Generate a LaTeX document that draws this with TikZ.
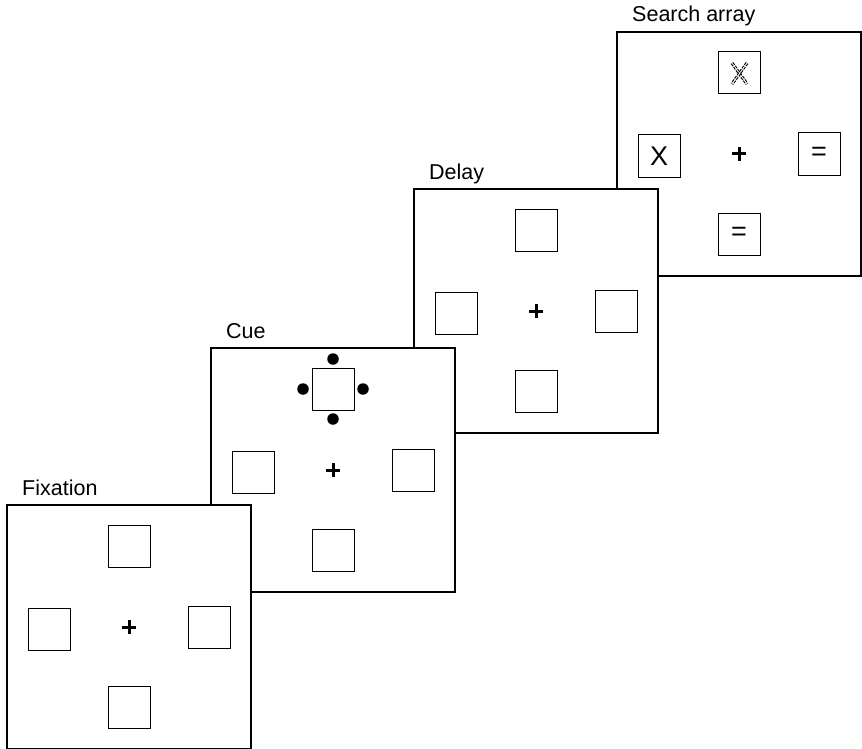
\documentclass[tikz,border=0pt]{standalone}
\usepackage{fontspec}
\setmainfont{Liberation Sans}
\usetikzlibrary{positioning, calc}

\begin{document}
\begin{tikzpicture}[
    x=1pt, y=-1pt, % pixel-like units, y grows downwards
    frame/.style={draw, fill=white, line width=2pt}, % Style for the screens
    title/.style={anchor=base west, inner sep=0pt, font=\fontsize{21.5}{25}\selectfont}, % Style for screen names
    stim/.style={draw, line width=1pt, minimum size=42pt, inner sep=0pt,
        font=\fontsize{27}{30}\selectfont}, % Style for placeholder boxes
    fixcross/.style={line width=3pt}, % Style for the fixation cross
    cuedot/.style={fill, circle, inner sep=0pt, minimum size=11.5pt}, % Style for cue dots
    shattered/.style={dash pattern=on 3pt off 1.2pt, double, line width=1.1pt,
        double distance=0.9pt} % Style for the broken X
]
    \useasboundingbox (0,0) rectangle (862,749);

    % Screen centres
    \coordinate (S) at (739,154);
    \coordinate (D) at (536,311);
    \coordinate (C) at (333,470);
    \coordinate (F) at (129,627);

    % Screens, back to front
    \foreach \p/\name in {S/Search array, D/Delay, C/Cue, F/Fixation} {
        \draw[frame] ($(\p)+(-122,-122)$) rectangle ($(\p)+(122,122)$);
        \node[title] (\p-title) at ($(\p)+(-107,-132)$) {\name};
    }

    % Fixation crosses
    \foreach \p in {S, D, C, F} {
        \draw[fixcross] ($(\p)+(-7,0)$) -- ($(\p)+(7,0)$) ($(\p)+(0,-7)$) -- ($(\p)+(0,7)$);
    }

    % Empty placeholders
    \foreach \p in {D, C, F} {
        \node[stim] (\p-top) at ($(\p)+(0,-81)$) {};
        \node[stim] (\p-left) at ($(\p)+(-80,2)$) {};
        \node[stim] (\p-right) at ($(\p)+(80,0)$) {};
        \node[stim] (\p-bottom) at ($(\p)+(0,80)$) {};
    }

    % Cue: dots round the top placeholder
    \node[cuedot] (cue-n) at ($(C-top)+(0,-30)$) {};
    \node[cuedot] (cue-s) at ($(C-top)+(0,30)$) {};
    \node[cuedot] (cue-w) at ($(C-top)+(-30,0)$) {};
    \node[cuedot] (cue-e) at ($(C-top)+(30,0)$) {};

    % Search array items
    \node[stim] (S-top) at ($(S)+(0,-81)$) {};
    \node[stim] (S-left) at ($(S)+(-80,2)$) {X};
    \node[stim] (S-right) at ($(S)+(80,0)$) {=};
    \node[stim] (S-bottom) at ($(S)+(0,80)$) {=};
    \draw[shattered] ($(S-top)+(-7,-10)$) -- ($(S-top)+(8,11)$);
    \draw[shattered] ($(S-top)+(8,-10)$) -- ($(S-top)+(-7,11)$);

\end{tikzpicture}
\end{document}
